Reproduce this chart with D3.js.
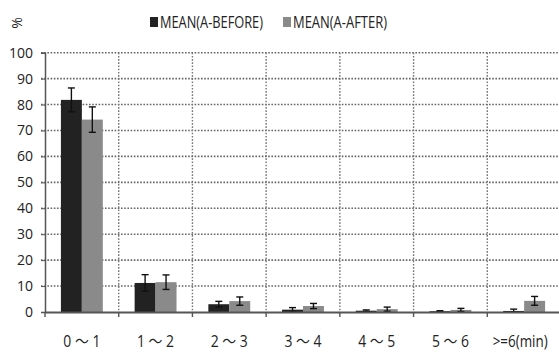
<!DOCTYPE html>
<html>
<head>
<meta charset="utf-8">
<script src="https://cdn.jsdelivr.net/npm/d3@7"></script>
<style>
  body { margin: 0; background: #fff; }
  svg { display: block; }
  text { font-family: "Open Sans", "Noto Sans CJK JP", sans-serif; fill: #222; }
</style>
</head>
<body>
<div id="chart"></div>
<script>
// categories and series
const categories = ["0 ～ 1", "1 ～ 2", "2 ～ 3", "3 ～ 4", "4 ～ 5", "5 ～ 6", ">=6(min)"];
const seriesNames = ["MEAN(A-BEFORE)", "MEAN(A-AFTER)"];
const beforeMean = [81.8, 11.2, 3.0, 0.9, 0.5, 0.3, 0.4];
const beforeErr = [4.6, 3.2, 1.1, 0.8, 0.3, 0.2, 0.7];
const afterMean = [74.2, 11.5, 4.2, 2.3, 1.1, 0.8, 4.3];
const afterErr = [4.9, 2.8, 1.6, 1.0, 0.8, 0.6, 1.7];
const yTicks = [0, 10, 20, 30, 40, 50, 60, 70, 80, 90, 100];
const colors = ["#222222", "#8a8a8a"];

const width = 559, height = 352;
// the plot runs a little past the right edge of the picture
const margin = {top: 52.7, right: -2, bottom: 40, left: 45};

const svg = d3.select("#chart").append("svg")
    .attr("width", width)
    .attr("height", height);

const x = d3.scaleBand()
    .domain(categories)
    .range([margin.left, width - margin.right])
    .padding(0);

const y = d3.scaleLinear()
    .domain([0, 100])
    .range([height - margin.bottom, margin.top]);

const x1 = d3.scaleBand()
    .domain(seriesNames)
    .range([0, x.bandwidth()])
    .paddingInner(0)
    .paddingOuter(0.76);

const series = [
    {name: seriesNames[0], mean: beforeMean, err: beforeErr},
    {name: seriesNames[1], mean: afterMean, err: afterErr}
];

// the original uses a condensed font, so fit texts to the width they take there
function fit(sel, w) {
    sel.attr("textLength", w).attr("lengthAdjust", "spacingAndGlyphs");
}

// horizontal grid
svg.append("g")
    .selectAll("line")
    .data(yTicks.filter(d => d > 0))
    .join("line")
    .attr("x1", margin.left - 4)
    .attr("x2", width)
    .attr("y1", d => y(d))
    .attr("y2", d => y(d))
    .attr("stroke", "#666")
    .attr("stroke-width", 1.6)
    .attr("stroke-dasharray", "1.6,1.6");

// vertical grid at category boundaries
svg.append("g")
    .selectAll("line")
    .data(categories.slice(1))
    .join("line")
    .attr("x1", d => x(d))
    .attr("x2", d => x(d))
    .attr("y1", y(100))
    .attr("y2", y(0))
    .attr("stroke", "#777")
    .attr("stroke-width", 1.4)
    .attr("stroke-dasharray", "1.6,1.6");

// bars
const groups = svg.append("g")
    .selectAll("g")
    .data(series)
    .join("g")
    .attr("fill", (d, i) => colors[i]);

groups.selectAll("rect")
    .data(s => s.mean.map((v, i) => ({cat: categories[i], v, e: s.err[i], name: s.name})))
    .join("rect")
    .attr("x", d => x(d.cat) + x1(d.name))
    .attr("width", x1.bandwidth())
    .attr("y", d => y(d.v))
    .attr("height", d => y(0) - y(d.v));

// error bars
const errs = svg.append("g")
    .attr("stroke", "#111")
    .attr("stroke-width", 1.4)
    .selectAll("g")
    .data(series.flatMap(s => s.mean.map((v, i) => ({cat: categories[i], v, e: s.err[i], name: s.name}))))
    .join("g")
    .attr("transform", d => `translate(${x(d.cat) + x1(d.name) + x1.bandwidth() / 2},0)`);

errs.append("line")
    .attr("y1", d => y(d.v + d.e))
    .attr("y2", d => y(Math.max(0, d.v - d.e)));
errs.append("line")
    .attr("x1", -3.5).attr("x2", 3.5)
    .attr("y1", d => y(d.v + d.e))
    .attr("y2", d => y(d.v + d.e));
errs.append("line")
    .attr("x1", -3.5).attr("x2", 3.5)
    .attr("y1", d => y(Math.max(0, d.v - d.e)))
    .attr("y2", d => y(Math.max(0, d.v - d.e)));

// y axis
const yAxis = svg.append("g")
    .attr("transform", `translate(${margin.left},0)`)
    .call(d3.axisLeft(y).tickValues(yTicks).tickSize(4).tickPadding(8));
yAxis.select(".domain").attr("stroke", "#555").attr("stroke-width", 1.5);
yAxis.selectAll(".tick line").attr("stroke", "#555");
yAxis.selectAll(".tick text")
    .style("font-family", "Open Sans, sans-serif")
    .style("font-size", "14px")
    .attr("fill", "#222");

// x axis
const xAxis = svg.append("g")
    .attr("transform", `translate(0,${y(0)})`)
    .call(d3.axisBottom(x).tickSize(0).tickPadding(24));
xAxis.select(".domain").attr("stroke", "#555").attr("stroke-width", 2.2);
xAxis.selectAll(".tick text")
    .style("font-family", "Open Sans, Noto Sans CJK JP, sans-serif")
    .style("font-size", "16px")
    .attr("fill", "#222")
    .each(function(d) { fit(d3.select(this), d.length > 6 ? 55 : 37); });
xAxis.selectAll(".tick").filter(d => d.length > 6)
    .select("text").attr("dx", -4);

// boundary ticks below the axis
svg.append("g")
    .selectAll("line")
    .data(categories)
    .join("line")
    .attr("x1", d => x(d))
    .attr("x2", d => x(d))
    .attr("y1", y(0))
    .attr("y2", y(0) + 5)
    .attr("stroke", "#555")
    .attr("stroke-width", 1.4);

// unit label
svg.append("text")
    .attr("transform", "translate(16,23) rotate(-90)")
    .attr("text-anchor", "middle")
    .attr("dominant-baseline", "central")
    .style("font-size", "14px")
    .text("%");

// legend
const legendX = [150, 283];
const legendW = [103, 94];
const legend = svg.append("g")
    .selectAll("g")
    .data(seriesNames)
    .join("g")
    .attr("transform", (d, i) => `translate(${legendX[i]},17)`);
legend.append("rect")
    .attr("width", 8).attr("height", 10)
    .attr("y", 0)
    .attr("fill", (d, i) => colors[i]);
legend.append("text")
    .attr("x", 10)
    .attr("y", 10.5)
    .style("font-size", "16.5px")
    .text(d => d)
    .each(function(d, i) { fit(d3.select(this), legendW[i]); });
</script>
</body>
</html>
